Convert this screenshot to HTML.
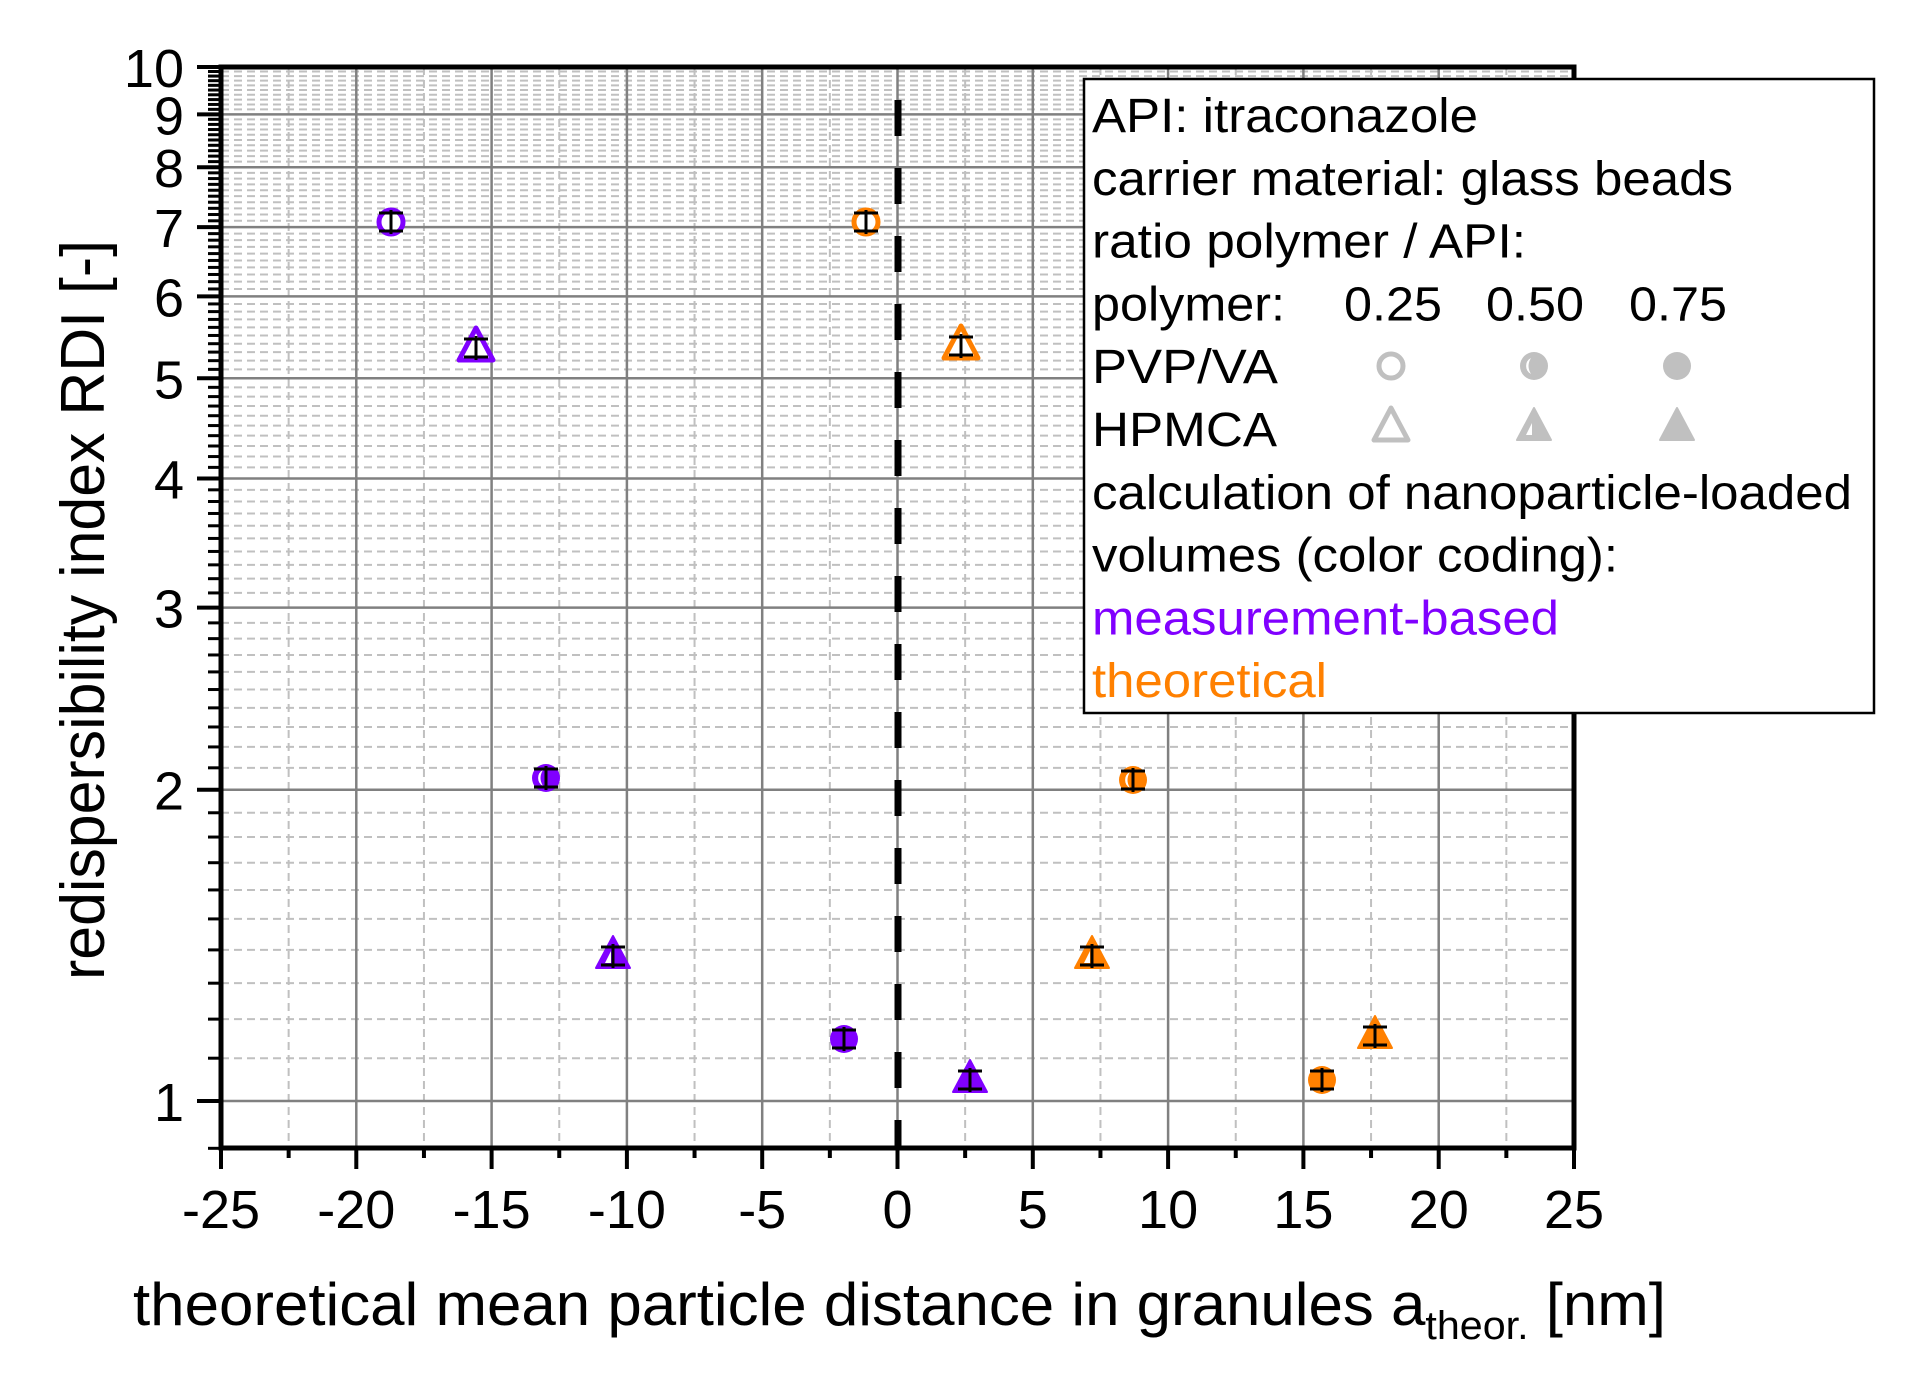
<!DOCTYPE html>
<html><head><meta charset="utf-8"><style>
html,body{margin:0;padding:0;background:#fff}
svg{display:block}
text{font-family:"Liberation Sans",Arial,sans-serif}
</style></head><body>
<svg id="s" xmlns="http://www.w3.org/2000/svg" width="1929" height="1397" viewBox="0 0 1929 1397">
<rect width="1929" height="1397" fill="#fff"/>
<g id="grid"></g>
<g id="axes"></g>
<g id="pts"></g>
<g id="leg"></g>
</svg>
<script>
var NS="http://www.w3.org/2000/svg";
function el(p,t,a,txt){var e=document.createElementNS(NS,t);for(var k in a)e.setAttribute(k,a[k]);if(txt!=null)e.textContent=txt;document.getElementById(p).appendChild(e);return e;}
var L=221,R=1574,T=67,B=1148;
function X(v){return 897.5+27.06*v;}
function Y(v){return 67+1034*(1-Math.log10(v));}
for(var i=10;i<=100;i++){var v=i/10;var y=Y(v);if(y>B+1)continue;
 var major=(i%10==0);
 if(!major){el('grid','line',{x1:L,x2:R,y1:y,y2:y,stroke:'#c0c0c0','stroke-width':2,'stroke-dasharray':'8 5'});
  el('axes','line',{x1:L-13,x2:L,y1:y,y2:y,stroke:'#000','stroke-width':3});}
}
el('axes','line',{x1:L-13,x2:L,y1:Y(0.9),y2:Y(0.9),stroke:'#000','stroke-width':3});
for(var v=-22.5;v<25;v+=5){var x=X(v);el('grid','line',{x1:x,x2:x,y1:T,y2:B,stroke:'#c0c0c0','stroke-width':2,'stroke-dasharray':'8 5'});
 el('axes','line',{x1:x,x2:x,y1:B,y2:B+10,stroke:'#000','stroke-width':4});}
for(var v=-20;v<25;v+=5){var x=X(v);el('grid','line',{x1:x,x2:x,y1:T,y2:B,stroke:'#808080','stroke-width':2.5});}
[1,2,3,4,5,6,7,8,9].forEach(function(v){var y=Y(v);el('grid','line',{x1:L,x2:R,y1:y,y2:y,stroke:'#808080','stroke-width':2.5});});
[1,2,3,4,5,6,7,8,9,10].forEach(function(v){var y=Y(v);el('axes','line',{x1:L-24,x2:L,y1:y,y2:y,stroke:'#000','stroke-width':4});
 el('axes','text',{x:184,y:y+20,'font-size':54,'text-anchor':'end'},String(v));});
for(var v=-25;v<=25;v+=5){var x=X(v);el('axes','line',{x1:x,x2:x,y1:B,y2:B+21,stroke:'#000','stroke-width':4});
 el('axes','text',{x:x,y:1228,'font-size':54,'text-anchor':'middle'},String(v));}
el('axes','rect',{x:L,y:T,width:R-L,height:B-T,fill:'none',stroke:'#000','stroke-width':5});
el('axes','line',{x1:898,x2:898,y1:100,y2:B,stroke:'#000','stroke-width':7,'stroke-dasharray':'36 32'});
var t=el('axes','text',{x:133,y:1325,'font-size':60,textLength:1533,lengthAdjust:'spacingAndGlyphs'},'theoretical mean particle distance in granules a');
var ts=document.createElementNS(NS,'tspan');ts.setAttribute('font-size',40);ts.setAttribute('dy',14);ts.textContent='theor.';t.appendChild(ts);
var ts2=document.createElementNS(NS,'tspan');ts2.setAttribute('dy',-14);ts2.textContent=' [nm]';t.appendChild(ts2);
el('axes','text',{x:0,y:0,'font-size':62,'text-anchor':'middle',transform:'translate(104,610) rotate(-90)',textLength:740,lengthAdjust:'spacingAndGlyphs'},'redispersibility index RDI [-]');
function circ(g,cx,cy,c,type){
 if(type==0)el(g,'circle',{cx:cx,cy:cy,r:12,fill:'#fff',stroke:c,'stroke-width':5});
 else{el(g,'circle',{cx:cx,cy:cy,r:14,fill:c});
  if(type==1)el(g,'path',{d:'M'+(cx-3)+' '+(cy-8)+' A 9 9 0 0 0 '+(cx-3)+' '+(cy+8)+' Q '+(cx-8)+' '+cy+' '+(cx-3)+' '+(cy-8)+'Z',fill:'#fff'});}
}
function tri(g,cx,cy,c,type){
 var p=(cx)+','+(cy-19)+' '+(cx-17)+','+(cy+13)+' '+(cx+17)+','+(cy+13);
 if(type==0)el(g,'polygon',{points:p,fill:'#fff',stroke:c,'stroke-width':5,'stroke-linejoin':'round'});
 else{el(g,'polygon',{points:p,fill:c,stroke:c,'stroke-width':2,'stroke-linejoin':'round'});
  if(type==1)el(g,'polygon',{points:(cx-2)+','+(cy-4)+' '+(cx-8)+','+(cy+8)+' '+(cx-2)+','+(cy+8),fill:'#fff'});}
}
function eb(cx,cy,h){el('pts','line',{x1:cx,x2:cx,y1:cy-h,y2:cy+h,stroke:'#000','stroke-width':3});
 el('pts','line',{x1:cx-12,x2:cx+12,y1:cy-h+3,y2:cy-h+3,stroke:'#000','stroke-width':3});
 el('pts','line',{x1:cx-12,x2:cx+12,y1:cy+h-3,y2:cy+h-3,stroke:'#000','stroke-width':3});}
var P='#8000ff',O='#ff8000';
[[391,222,0],[546,778,1],[844,1039,2]].forEach(function(d){circ('pts',d[0],d[1],P,d[2]);eb(d[0],d[1],12);});
[[476,347,0],[613,955,1],[970,1079,2]].forEach(function(d){tri('pts',d[0],d[1],P,d[2]);eb(d[0],d[1]+1,12);});
[[866,222,0],[1133,780,1],[1322,1080,2]].forEach(function(d){circ('pts',d[0],d[1],O,d[2]);eb(d[0],d[1],12);});
[[961,345,0],[1092,955,1],[1375,1035,2]].forEach(function(d){tri('pts',d[0],d[1],O,d[2]);eb(d[0],d[1]+1,12);});
el('leg','rect',{x:1084,y:79,width:790,height:634,fill:'#fff',stroke:'#000','stroke-width':2.5});
var lines=[['API: itraconazole',386,'#000'],['carrier material: glass beads',641,'#000'],['ratio polymer / API:',434,'#000'],['polymer:',193,'#000'],['PVP/VA',186,'#000'],['HPMCA',185,'#000'],['calculation of nanoparticle-loaded',760,'#000'],['volumes (color coding):',526,'#000'],['measurement-based',467,'#8000ff'],['theoretical',235,'#ff8000']];
lines.forEach(function(l,i){el('leg','text',{x:1092,y:132+62.8*i,'font-size':48,fill:l[2],textLength:l[1],lengthAdjust:'spacingAndGlyphs'},l[0]);});
[['0.25',1344],['0.50',1486],['0.75',1629]].forEach(function(d){el('leg','text',{x:d[1],y:132+62.8*3,'font-size':48,textLength:98,lengthAdjust:'spacingAndGlyphs'},d[0]);});
var G='#c0c0c0';
circ('leg',1391,366,G,0);circ('leg',1534,366,G,1);circ('leg',1677,366,G,2);
tri('leg',1391,427,G,0);tri('leg',1534,427,G,1);tri('leg',1677,427,G,2);
</script>
</body></html>
